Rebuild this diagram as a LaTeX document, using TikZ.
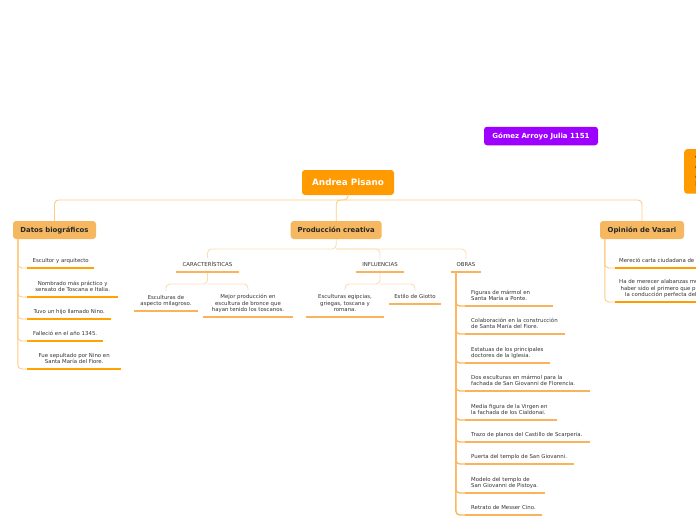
\documentclass[tikz,border=0pt]{standalone}
\usepackage{fontspec}
\setmainfont{DejaVu Sans}
\definecolor{cRoot}{HTML}{FF9A00}
\definecolor{cL1}{HTML}{F5B861}
\definecolor{cPurple}{HTML}{9D00FF}
\definecolor{cTxt}{HTML}{333333}
\definecolor{cUlD}{HTML}{FFA300}
\definecolor{cUlP}{HTML}{FBB25C}
\definecolor{cUlV}{HTML}{FF9C00}
\definecolor{cConnA}{HTML}{FDCB83}
\definecolor{cConnB}{HTML}{FBDDB3}
\definecolor{cConnO}{HTML}{F9B861}
\begin{document}
\begin{tikzpicture}[x=1pt,y=-1pt,
  sm/.style={font=\fontsize{5.4}{6.7}\selectfont, text=cTxt, inner xsep=0pt, inner ysep=3.7pt, text depth=1.3pt},
  ctr/.style={sm, align=center, anchor=south},
  lft/.style={sm, align=left, anchor=south west},
  rootbox/.style={fill=cRoot, rounded corners=3pt, minimum width=92pt, minimum height=25pt, inner sep=0pt, text=white, font=\bfseries\fontsize{8.8}{10}\selectfont},
  lone/.style={fill=cL1, rounded corners=3pt, minimum height=18pt, inner sep=0pt, text=black!85, font=\bfseries\fontsize{6.9}{8}\selectfont},
  ulD/.style={draw=cUlD, line width=2.6pt},
  ulP/.style={draw=cUlP, line width=2.6pt},
  ulV/.style={draw=cUlV, line width=2.6pt},
  connA/.style={draw=cConnA, line width=0.9pt, rounded corners=4pt},
  connB/.style={draw=cConnB, line width=0.9pt, rounded corners=4pt},
  connO/.style={draw=cConnO, line width=1.4pt, rounded corners=4pt}
]
\useasboundingbox (0,0) rectangle (696,520);
\clip (0,0) rectangle (696,520);

% ---- main boxes
\node[rootbox] (root) at (348,182.5) {Andrea Pisano};
\node[lone, minimum width=83pt] (datos) at (54.5,230) {Datos biográficos};
\node[lone, minimum width=91pt] (prod) at (336.2,230) {Producción creativa};
\node[lone, minimum width=84pt] (opin) at (642,230) {Opinión de Vasari};
\node[fill=cPurple, rounded corners=3pt, minimum width=114pt, minimum height=18.5pt, inner sep=0pt, text=white, font=\bfseries\fontsize{7}{8}\selectfont] (autor) at (541,136) {Gómez Arroyo Julia 1151};
\node[fill=cRoot, rounded corners=3pt, anchor=north west, align=left, minimum height=44pt, minimum width=60pt, inner xsep=7pt, inner ysep=7pt, text=black, font=\bfseries\fontsize{6.9}{8.4}\selectfont] (nota) at (684,149) {Vasari\\escribió\\acerca de\\Maestro};

% ---- root connectors
\coordinate (rj) at (348,200);
\draw[connA] (root.south) -- (rj) -| (datos.north);
\draw[connA] (rj) -| (opin.north);
\draw[connA] (rj) -| (prod.north);

% ---- Datos biograficos
\node[ctr, anchor=south west, minimum width=67pt] (d1) at (27,268) {Escultor y arquitecto};
\node[ctr, anchor=south west, minimum width=91pt] (d2) at (27,297) {Nombrado más práctico y\\sensato de Toscana e Italia.};
\node[ctr, anchor=south west, minimum width=84pt] (d3) at (27,319) {Tuvo un hijo llamado Nino.};
\node[ctr, anchor=south west, minimum width=76pt] (d4) at (27,341) {Falleció en el año 1345.};
\node[ctr, anchor=south west, minimum width=94pt] (d5) at (27,369) {Fue sepultado por Nino en\\Santa María del Fiore.};
\foreach \n in {d1,d2,d3,d4,d5}{
  \draw[connA] ([xshift=5pt]datos.south west) |- (\n.south west);
  \draw[ulD] (\n.south west) -- (\n.south east);
}

% ---- Produccion creativa
\node[ctr, minimum width=63pt] (car) at (207.5,272) {CARACTERÍSTICAS};
\node[ctr, minimum width=48pt] (inf) at (380,272) {INFLUENCIAS};
\node[ctr, minimum width=30pt] (obr) at (466,272) {OBRAS};
\coordinate (pj) at (336.2,249);
\draw[connB] (prod.south) -- (pj) -| (car.north);
\draw[connB] (pj) -| (inf.north);
\draw[connB] (pj) -| (obr.north);

\node[ctr, minimum width=64pt] (c1) at (166,311) {Esculturas de\\aspecto milagroso.};
\node[ctr, minimum width=90pt] (c2) at (248,317) {Mejor producción en\\escultura de bronce que\\hayan tenido los toscanos.};
\coordinate (cj) at (207.5,284);
\draw[connB] (car.south) -- (cj) -| (c1.north);
\draw[connB] (cj) -| (c2.north);

\node[ctr, minimum width=78pt] (i1) at (345,317) {Esculturas egipcias,\\griegas, toscana y\\romana.};
\node[ctr, minimum width=52pt] (i2) at (415,304) {Estilo de Giotto};
\coordinate (ij) at (380,284);
\draw[connB] (inf.south) -- (ij) -| (i1.north);
\draw[connB] (ij) -| (i2.north);

\foreach \n in {car,inf,obr,c1,c2,i1,i2}{
  \draw[ulP] (\n.south west) -- (\n.south east);
}

% ---- Obras
\node[lft] (o1) at (471,306) {Figuras de mármol en\\Santa María a Ponte.};
\node[lft] (o2) at (471,334) {Colaboración en la construcción\\de Santa María del Fiore.};
\node[lft] (o3) at (471,363) {Estatuas de los principales\\doctores de la Iglesia.};
\node[lft] (o4) at (471,391) {Dos esculturas en mármol para la\\fachada de San Giovanni de Florencia.};
\node[lft] (o5) at (471,420) {Media figura de la Virgen en\\la fachada de los Cialdonai.};
\node[lft] (o6) at (471,442) {Trazo de planos del Castillo de Scarperia.};
\node[lft] (o7) at (471,464) {Puerta del templo de San Giovanni.};
\node[lft] (o8) at (471,493) {Modelo del templo de\\San Giovanni de Pistoya.};
\node[lft] (o9) at (471,515) {Retrato de Messer Cino.};
\foreach \n/\w in {o1/88,o2/100,o3/85,o4/125,o5/92,o6/125,o7/109,o8/80,o9/77}{
  \draw[connO] ([xshift=5pt]obr.south west) |- ([xshift=-6pt]\n.south west);
  \draw[ulP] ([xshift=-6pt]\n.south west) -- ++(\w,0);
}

% ---- Opinion de Vasari
\node[lft] (v1) at (619,268) {Mereció carta ciudadana de Florencia.};
\node[lft] (v2) at (619,302) {Ha de merecer alabanzas muy grandes por\\\hspace*{1.5pt}haber sido el primero que puso en\\\hspace*{6pt}la conducción perfecta del arte.};
\foreach \n in {v1,v2}{
  \draw[connA] ([xshift=5pt]opin.south west) |- ([xshift=-4pt]\n.south west);
  \draw[ulV] ([xshift=-4pt]\n.south west) -- ++(140,0);
}
\end{tikzpicture}
\end{document}
